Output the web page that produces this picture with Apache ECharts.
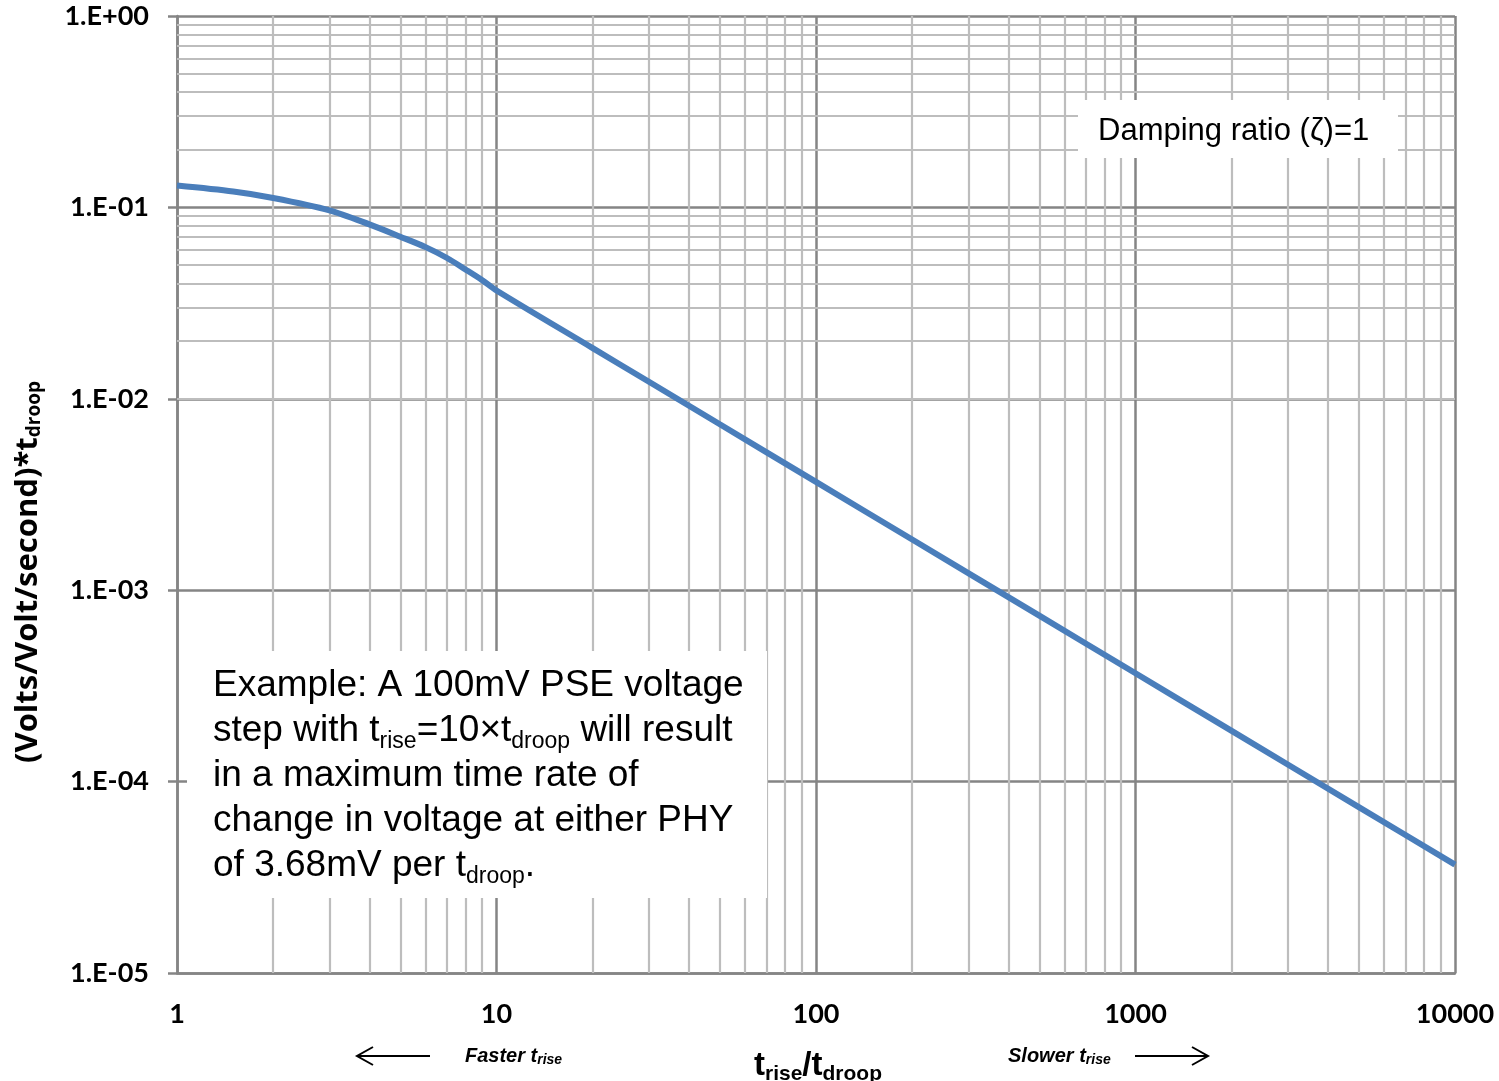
<!DOCTYPE html>
<html>
<head>
<meta charset="utf-8">
<title>Max rate of change vs rise time</title>
<script src="https://cdn.jsdelivr.net/npm/echarts@6/dist/echarts.min.js"></script>
<style>
  html, body { margin: 0; padding: 0; background: #fff; }
  #chart { width: 1499px; height: 1081px; }
</style>
</head>
<body>
<div id="chart"></div>
<script>
// t_rise / t_droop ratios sampled along the curve
const riseRatio = [1, 1.5, 2, 3, 4, 5, 6, 7, 8, 9, 10, 20, 30, 50, 100, 200, 500, 1000, 2000, 5000, 10000];
// normalised maximum rate of change, (Volts/Volt/second)*t_droop
const maxRate = [0.130, 0.121, 0.112, 0.0965, 0.0815, 0.0703, 0.0620, 0.0544, 0.0474, 0.0418, 0.0368,
                 0.0184, 0.01227, 0.00736, 0.00368, 0.00184, 0.000736, 0.000368, 0.000184, 0.0000736, 0.0000368];
// decade tick labels on the vertical axis, lowest first
const yTickLabels = ['1.E-05', '1.E-04', '1.E-03', '1.E-02', '1.E-01', '1.E+00'];
// decade tick labels on the horizontal axis
const xTickLabels = ['1', '10', '100', '1000', '10000'];
// 2..9 multipliers for the minor grid inside each decade
const minorSteps = [2, 3, 4, 5, 6, 7, 8, 9];
const xDecades = [1, 10, 100, 1000];
const yDecades = [1e-5, 1e-4, 1e-3, 1e-2, 1e-1];

const minorX = [];
xDecades.forEach(d => minorSteps.forEach(m => minorX.push({ xAxis: d * m })));
const minorY = [];
yDecades.forEach(d => minorSteps.forEach(m => minorY.push({ yAxis: +(d * m).toPrecision(3) })));

const chart = echarts.init(document.getElementById('chart'), null, { renderer: 'canvas' });

const labelFont = { fontFamily: 'Lato', fontWeight: 'bold', fontSize: 27, color: '#000' };
const majorGrid = { color: '#858585', width: 2.5 };
const minorGrid = { color: '#bdbdbd', width: 2.2 };
const arial = '"Liberation Sans", Arial, sans-serif';

const option = {
  animation: false,
  backgroundColor: '#fff',
  grid: { left: 177, top: 16, right: 44, bottom: 108, containLabel: false },
  xAxis: {
    type: 'log', logBase: 10, min: 1, max: 10000,
    axisLine: { show: true, lineStyle: majorGrid },
    axisTick: { show: false },
    splitLine: { show: true, lineStyle: majorGrid },
    minorTick: { show: false },
    minorSplitLine: { show: false },
    axisLabel: Object.assign({
      margin: 28,
      formatter: v => xTickLabels[Math.round(Math.log10(v))]
    }, labelFont)
  },
  yAxis: {
    type: 'log', logBase: 10, min: 1e-5, max: 1,
    axisLine: { show: true, lineStyle: majorGrid },
    axisTick: { show: true, inside: false, length: 9, lineStyle: majorGrid },
    splitLine: { show: true, lineStyle: majorGrid },
    minorTick: { show: false },
    minorSplitLine: { show: false },
    axisLabel: Object.assign({
      margin: 28,
      formatter: v => yTickLabels[Math.round(Math.log10(v)) + 5]
    }, labelFont)
  },
  series: [
    {
      // minor grid lines at 2..9 of each decade
      name: 'minor-grid',
      type: 'line',
      data: [],
      z: 1,
      silent: true,
      markLine: {
        silent: true,
        symbol: ['none', 'none'],
        label: { show: false },
        emphasis: { disabled: true },
        lineStyle: { color: minorGrid.color, width: minorGrid.width, type: 'solid' },
        animation: false,
        data: minorX.concat(minorY)
      }
    },
    {
      name: 'max-rate',
      type: 'line',
      z: 5,
      data: riseRatio.map((r, i) => [r, maxRate[i]]),
      showSymbol: false,
      smooth: 0.3,
      lineStyle: { color: '#4a7ebb', width: 6 },
      itemStyle: { color: '#4a7ebb' }
    }
  ],
  graphic: [
    // damping ratio note
    { type: 'rect', z: 20, shape: { x: 1078, y: 100, width: 320, height: 58 }, style: { fill: '#fff' } },
    { type: 'text', z: 21, x: 1098, y: 131,
      style: { text: 'Damping ratio (\u03B6)=1', font: '31px ' + arial, fill: '#000', verticalAlign: 'middle' } },
    // worked example note
    { type: 'rect', z: 20, shape: { x: 187, y: 651, width: 580, height: 247 }, style: { fill: '#fff' } },
    { type: 'text', z: 21, x: 213, y: 663,
      style: {
        text: [
          'Example: A 100mV PSE voltage',
          'step with t{sub|rise}=10\u00D7t{sub|droop} will result',
          'in a maximum time rate of',
          'change in voltage at either PHY',
          'of 3.68mV per t{sub|droop}.'
        ].join('\n'),
        font: '37px ' + arial,
        fill: '#000',
        lineHeight: 45,
        rich: {
          sub: { fontSize: 23, fontFamily: arial, verticalAlign: 'bottom', padding: [14, 0, 0, 0], lineHeight: 45 }
        }
      } },
    // vertical axis title
    { type: 'text', z: 21, x: 28, y: 572, rotation: Math.PI / 2,
      style: {
        text: '(Volts/Volt/second)*t{sub|droop}',
        font: 'bold 31px "Open Sans", Lato, sans-serif',
        fill: '#000', align: 'center', verticalAlign: 'middle',
        rich: { sub: { fontSize: 19, fontWeight: 'bold', fontFamily: '"Open Sans"', padding: [13, 0, 0, 0] } }
      } },
    // horizontal axis title
    { type: 'text', z: 21, x: 818, y: 1066,
      style: {
        text: 't{sub|rise}/t{sub|droop}',
        font: 'bold 33px ' + arial,
        fill: '#000', align: 'center', verticalAlign: 'middle',
        rich: { sub: { fontSize: 21, fontWeight: 'bold', fontFamily: arial, padding: [16, 0, 0, 0] } }
      } },
    // direction hints
    { type: 'text', z: 21, x: 465, y: 1056,
      style: {
        text: 'Faster t{sub|rise}',
        font: 'italic bold 20px ' + arial,
        fill: '#000', verticalAlign: 'middle',
        rich: { sub: { fontSize: 14, fontStyle: 'italic', fontWeight: 'bold', fontFamily: arial, padding: [9, 0, 0, 0] } }
      } },
    { type: 'text', z: 21, x: 1008, y: 1056,
      style: {
        text: 'Slower t{sub|rise}',
        font: 'italic bold 20px ' + arial,
        fill: '#000', verticalAlign: 'middle',
        rich: { sub: { fontSize: 14, fontStyle: 'italic', fontWeight: 'bold', fontFamily: arial, padding: [9, 0, 0, 0] } }
      } },
    // arrows
    { type: 'polyline', z: 21, shape: { points: [[430, 1056], [357, 1056]] }, style: { stroke: '#000', lineWidth: 2, fill: null } },
    { type: 'polyline', z: 21, shape: { points: [[373, 1047], [357, 1056], [373, 1065]] }, style: { stroke: '#000', lineWidth: 2, fill: null } },
    { type: 'polyline', z: 21, shape: { points: [[1135, 1056], [1208, 1056]] }, style: { stroke: '#000', lineWidth: 2, fill: null } },
    { type: 'polyline', z: 21, shape: { points: [[1192, 1047], [1208, 1056], [1192, 1065]] }, style: { stroke: '#000', lineWidth: 2, fill: null } }
  ]
};

chart.setOption(option);
</script>
</body>
</html>
